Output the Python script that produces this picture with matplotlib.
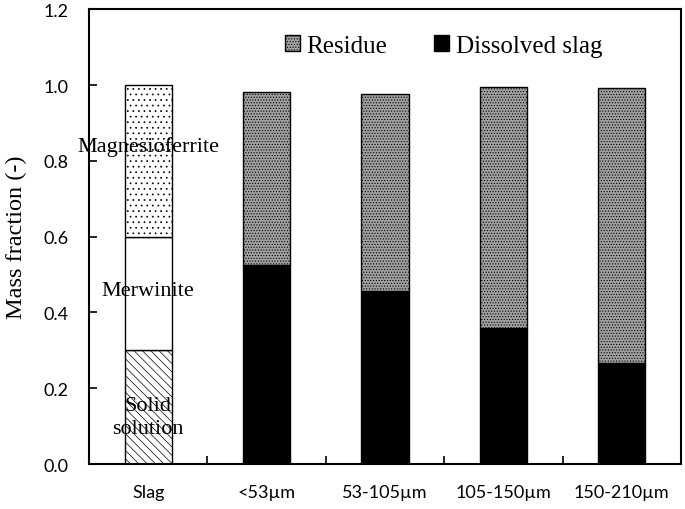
import numpy as np
import matplotlib.pyplot as plt

categories = ["Slag", "<53\u00b5m", "53-105\u00b5m", "105-150\u00b5m", "150-210\u00b5m"]

# slag phase composition
slag_phases = ["Solid\nsolution", "Merwinite", "Magnesioferrite"]
slag_values = [0.30, 0.30, 0.40]

# particle-size fractions
dissolved = [0.525, 0.456, 0.358, 0.266]
residue = [0.457, 0.521, 0.636, 0.725]

plt.rcParams['hatch.linewidth'] = 0.5
serif = 'Liberation Serif'

fig = plt.figure(figsize=(6.85, 5.10), dpi=100)
ax = fig.add_axes([0.130, 0.088, 0.864, 0.892])

x = np.arange(len(categories))
w = 0.40

# slag bar
hatches = ['\\\\\\\\', '', '...']
bottom = 0
for val, h in zip(slag_values, hatches):
    ax.bar(x[0], val, w, bottom=bottom, color='white', edgecolor='black',
           hatch=h, linewidth=1)
    bottom += val
ax.text(x[0], 0.124, slag_phases[0], ha='center', va='center',
        fontsize=16, family=serif, linespacing=1.25)
ax.text(x[0], 0.459, slag_phases[1], ha='center', va='center',
        fontsize=16, family=serif)
ax.text(x[0], 0.839, slag_phases[2], ha='center', va='center',
        fontsize=16, family=serif)

# size fractions
ax.bar(x[1:], dissolved, w, color='black', edgecolor='black', linewidth=1,
       label='Dissolved slag')
ax.bar(x[1:], residue, w, bottom=dissolved, color='#a0a0a0', edgecolor='black',
       hatch='......', linewidth=1, label='Residue')

ax.set_xlim(-0.5, 4.5)
ax.set_ylim(0, 1.2)
ax.set_yticks(np.arange(0, 1.21, 0.2))
ax.set_yticklabels([f"{v:.1f}" for v in np.arange(0, 1.21, 0.2)])
ax.set_xticks(x)
ax.set_xticklabels(categories)
ax.set_xticks(x[:-1] + 0.5, minor=True)
ax.tick_params(axis='x', which='major', length=0, pad=14)
ax.tick_params(axis='x', which='minor', direction='in', length=6, width=1.2)
ax.tick_params(axis='y', direction='in', length=6, width=1.2, pad=15)
for lab in ax.get_xticklabels() + ax.get_yticklabels():
    lab.set_family('Lato')
    lab.set_fontsize(13)
for s in ax.spines.values():
    s.set_linewidth(1.5)

ax.set_ylabel("Mass fraction (-)", family=serif, fontsize=17.5)
ax.yaxis.set_label_coords(-0.105, 0.5)

handles, labels = ax.get_legend_handles_labels()
ax.legend(handles[::-1], labels[::-1], loc='center left',
          bbox_to_anchor=(0.383, 0.908), bbox_transform=fig.transFigure,
          ncol=2, frameon=False, prop={'family': serif, 'size': 18},
          handlelength=0.6, handleheight=0.6, handletextpad=0.25,
          columnspacing=1.9, borderpad=0.4)

fig.savefig('out.png', dpi=100)
